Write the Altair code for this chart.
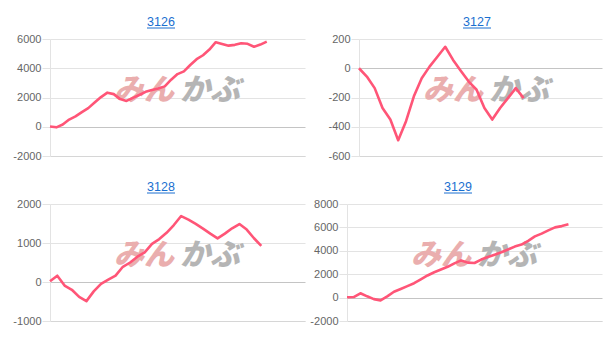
import altair as alt
import pandas as pd

# ---- data ----
titles = ["3126", "3127", "3128", "3129"]

v3126 = [20, -40, 150, 490, 705, 1000, 1275, 1660, 2030, 2330, 2230, 1890, 1765, 1975,
         2170, 2390, 2520, 2620, 2760, 3220, 3600, 3790, 4220, 4620, 4890, 5280, 5780,
         5660, 5545, 5600, 5710, 5670, 5470, 5620, 5820]
v3127 = [0, -57, -136, -272, -351, -492, -362, -192, -68, 11, 79, 147, 57, -18, -91,
         -147, -272, -351, -272, -204, -136, -204]
v3128 = [17, 161, -90, -200, -380, -490, -240, -50, 60, 165, 390, 500, 650, 760, 977,
         1100, 1260, 1461, 1691, 1600, 1490, 1370, 1240, 1120, 1240, 1377, 1487, 1345,
         1122, 926]
v3129 = [30, 45, 370, 110, -130, -235, 100, 500, 740, 980, 1230, 1560, 1890, 2170, 2400,
         2630, 2930, 3180, 2990, 2960, 3250, 3470, 3665, 3870, 4110, 4360, 4530, 4850,
         5230, 5470, 5750, 6000, 6110, 6260]
series = [v3126, v3127, v3128, v3129]

x_max = [40, 31, 35, 38]
y_domains = [[-2000, 6000], [-600, 200], [-1000, 2000], [-2000, 8000]]
y_ticks = [[-2000, 0, 2000, 4000, 6000],
           [-600, -400, -200, 0, 200],
           [-1000, 0, 1000, 2000],
           [-2000, 0, 2000, 4000, 6000, 8000]]

# ---- style ----
widths = [255, 243, 255, 255]
H = 117
title_cx = [111, 118, 111, 111]
LINE = "#ff5577"
GRID = "#e3e3e3"
ZERO = "#c4c4c4"
BLUE = "#1a6fd0"
FONT = "Liberation Sans"
JP = "Noto Sans CJK JP"
EXT = 40


def panel(i):
    vals = series[i]
    df = pd.DataFrame({"idx": list(range(len(vals))), "value": vals})
    one = pd.DataFrame({"k": [0]})
    w = widths[i]
    xs = alt.X("idx:Q", scale=alt.Scale(domain=[0, x_max[i]], nice=False, zero=False),
               axis=alt.Axis(labels=False, ticks=False, grid=False, title=None,
                             domainColor="#d6d6d6"))
    ys = alt.Y("value:Q", scale=alt.Scale(domain=y_domains[i], nice=False, zero=False),
               axis=alt.Axis(values=y_ticks[i], labelExpr="datum.value + ''",
                             title=None, labelFont=FONT, labelOverlap=False,
                             labelFontSize=11, labelColor="#666666", tickSize=8,
                             tickColor=GRID, labelPadding=1,
                             gridColor=alt.condition("datum.value === 0",
                                                     alt.value(ZERO), alt.value(GRID)),
                             domainColor=GRID, minExtent=EXT, maxExtent=EXT))

    # invisible copy of the line carries the axes beneath the watermark
    axes = alt.Chart(df).mark_line(strokeOpacity=0).encode(x=xs, y=ys)

    mark_a = alt.Chart(one).mark_text(
        text="みん", font=JP, fontSize=30, fontWeight=900, fontStyle="italic",
        color="#eaaeae", align="right", baseline="middle"
    ).encode(x=alt.value(124), y=alt.value(52))
    mark_b = alt.Chart(one).mark_text(
        text="かぶ", font=JP, fontSize=30, fontWeight=900, fontStyle="italic",
        color="#b5b5b5", align="left", baseline="middle"
    ).encode(x=alt.value(130), y=alt.value(52))

    line = alt.Chart(df).mark_line(color=LINE, strokeWidth=2.6,
                                   strokeJoin="round").encode(x=xs, y=ys)

    cx = title_cx[i]
    ttl = alt.Chart(one).mark_text(
        text=titles[i], font=FONT, fontSize=12.5, color=BLUE, align="center",
        baseline="alphabetic"
    ).encode(x=alt.value(cx), y=alt.value(-13))
    uline = alt.Chart(one).mark_rule(color=BLUE, strokeWidth=1).encode(
        x=alt.value(cx - 14), x2=alt.value(cx + 14), y=alt.value(-11))

    return alt.layer(axes, mark_a, mark_b, line, ttl, uline).properties(
        width=w, height=H)


row1 = alt.hconcat(panel(0), panel(1), spacing=14)
row2 = alt.hconcat(panel(2), panel(3), spacing=2)
chart = alt.vconcat(row1, row2, spacing=20).properties(
    padding={"left": 10, "top": 16, "right": 5, "bottom": 5}
).configure_view(stroke=None).configure_axis(gridWidth=1)

chart.save("out.html", embed_options={"renderer": "svg", "actions": False})
